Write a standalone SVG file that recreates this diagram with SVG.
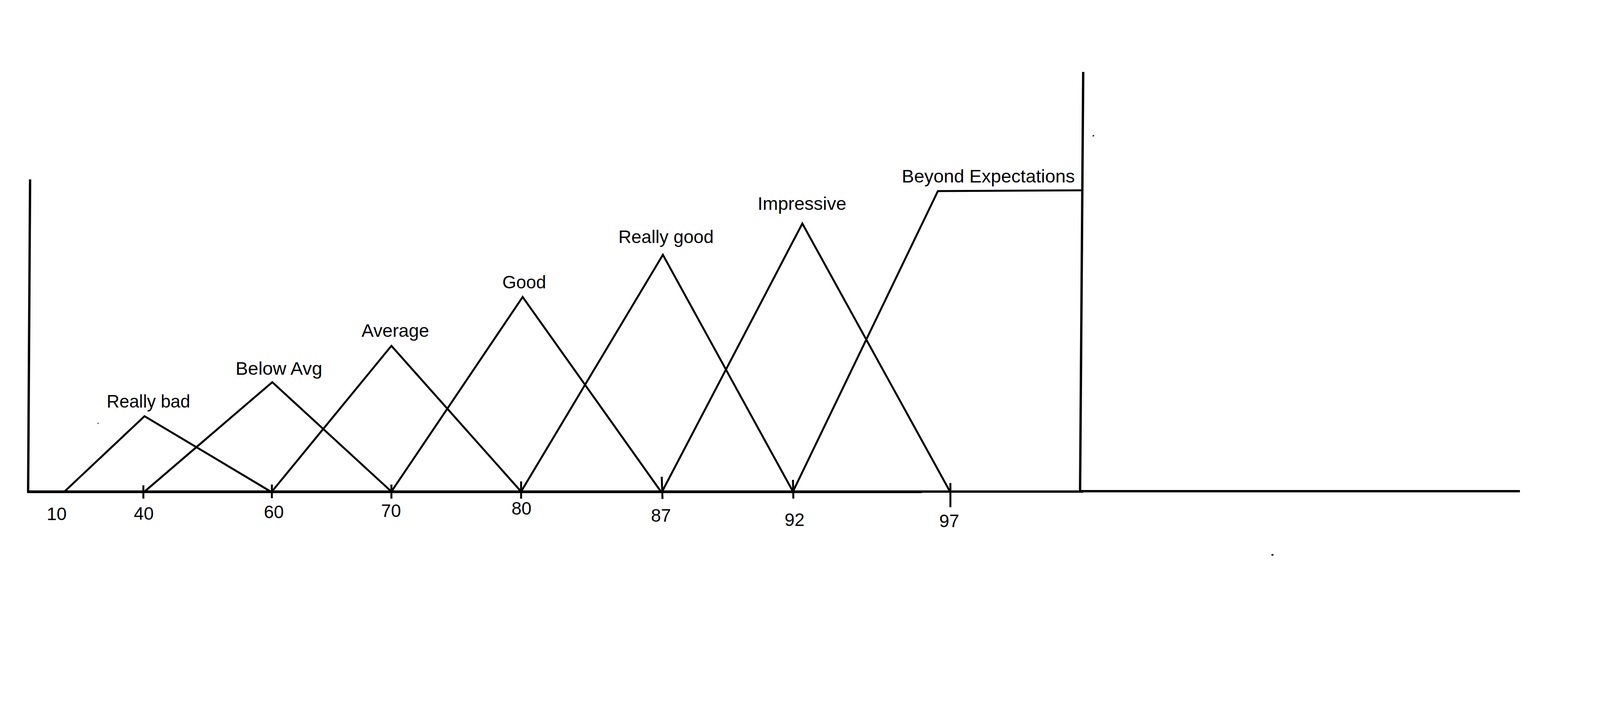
<svg xmlns="http://www.w3.org/2000/svg" width="4504" height="1840" viewBox="0 0 4504 1840">
<style>
.bg{fill:#ffffff}
.ax{fill:none;stroke:#000;stroke-width:6;stroke-linecap:square}
.axt{fill:none;stroke:#000;stroke-width:7;stroke-linecap:butt}
.cv{fill:none;stroke:#000;stroke-width:5;stroke-linejoin:miter;stroke-miterlimit:20}
.tk{fill:none;stroke:#000;stroke-width:5}
.lbl{font-family:"Liberation Sans",Arial,sans-serif;font-size:46px;fill:#000;text-anchor:middle}
.num{font-family:"Liberation Sans",Arial,sans-serif;font-size:46px;fill:#000;text-anchor:middle}
.dot{fill:#000}
</style>
<rect class="bg" x="0" y="0" width="4504" height="1840"/>
<g id="axes">
  <line class="ax" x1="77" y1="462" x2="72" y2="1258"/>
  <line class="axt" x1="70" y1="1258.5" x2="2360" y2="1258.5"/>
  <line class="ax" x1="2360" y1="1258" x2="2770" y2="1258"/>
  <line class="ax" x1="2770" y1="1257" x2="3888" y2="1257"/>
  <line class="ax" x1="2773" y1="187" x2="2765" y2="1257"/>
</g>
<g id="ticks">
  <line class="tk" x1="367" y1="1242" x2="367" y2="1276"/>
  <line class="tk" x1="696" y1="1240" x2="696" y2="1275"/>
  <line class="tk" x1="1002" y1="1240" x2="1002" y2="1276"/>
  <line class="tk" x1="1334" y1="1232" x2="1334" y2="1276"/>
  <line class="tk" x1="1694" y1="1220" x2="1696" y2="1277"/>
  <line class="tk" x1="2030" y1="1228" x2="2031" y2="1276"/>
  <line class="tk" x1="2433" y1="1236" x2="2433" y2="1298"/>
</g>
<g id="connectors">
  <polyline id="really-bad" class="cv" points="165,1258 370,1065 693,1258"/>
  <polyline id="below-avg" class="cv" points="370,1258 697,978 1002,1258"/>
  <polyline id="average" class="cv" points="696,1258 1002,885 1334,1258"/>
  <polyline id="good" class="cv" points="1002,1258 1338,760 1692,1258"/>
  <polyline id="really-good" class="cv" points="1334,1258 1697,652 2030,1258"/>
  <polyline id="impressive" class="cv" points="1695,1258 2054,572 2432,1258"/>
  <polyline id="beyond" class="cv" points="2030,1258 2401,489 2773,487"/>
</g>
<g id="node-really-bad"><text class="lbl" x="380" y="1043" textLength="214" lengthAdjust="spacingAndGlyphs">Really bad</text></g>
<g id="node-below-avg"><text class="lbl" x="714" y="959" textLength="222" lengthAdjust="spacingAndGlyphs">Below Avg</text></g>
<g id="node-average"><text class="lbl" x="1012" y="862" textLength="173" lengthAdjust="spacingAndGlyphs">Average</text></g>
<g id="node-good"><text class="lbl" x="1342" y="738" textLength="112" lengthAdjust="spacingAndGlyphs">Good</text></g>
<g id="node-really-good"><text class="lbl" x="1705" y="622" textLength="244" lengthAdjust="spacingAndGlyphs">Really good</text></g>
<g id="node-impressive"><text class="lbl" x="2053" y="537" textLength="227" lengthAdjust="spacingAndGlyphs">Impressive</text></g>
<g id="node-beyond"><text class="lbl" x="2530" y="467" textLength="443" lengthAdjust="spacingAndGlyphs">Beyond Expectations</text></g>
<g id="numbers">
  <text class="num" x="145" y="1331">10</text>
  <text class="num" x="368" y="1330">40</text>
  <text class="num" x="701" y="1326">60</text>
  <text class="num" x="1001" y="1323">70</text>
  <text class="num" x="1335" y="1317">80</text>
  <text class="num" x="1692" y="1335">87</text>
  <text class="num" x="2034" y="1346">92</text>
  <text class="num" x="2430" y="1349">97</text>
</g>
<g id="specks">
  <rect class="dot" x="2797" y="346" width="4" height="3"/>
  <rect class="dot" x="3255" y="1418" width="5" height="4"/>
  <rect class="dot" x="250" y="1082" width="2" height="3"/>
</g>
</svg>
